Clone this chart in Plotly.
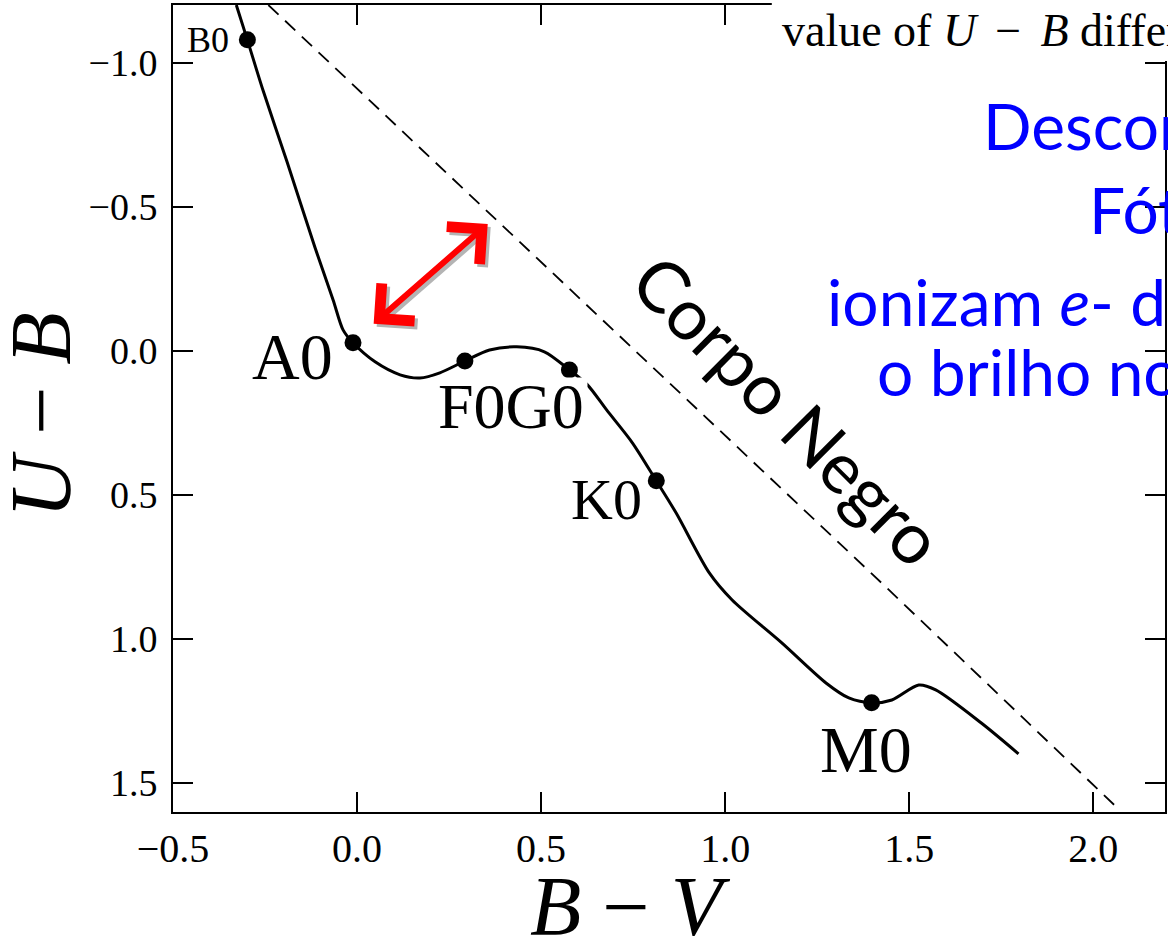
import plotly.graph_objects as go

# Canvas and plot-area geometry (pixels)
W, H = 1168, 944
ML, MR, MT, MB = 173, 1, 5, 132

SERIF = "Liberation Serif, Times New Roman, serif"
SANS = "Lato, Open Sans, sans-serif"

# Axis extents
bv_range = [-0.5, 2.195]
ub_range = [1.601, -1.201]
x_ticks = [-0.5, 0.0, 0.5, 1.0, 1.5, 2.0]
y_ticks = [-1.0, -0.5, 0.0, 0.5, 1.0, 1.5]

# Main-sequence colour-colour relation (B-V, U-B)
seq_bv = [-0.328, -0.298, -0.255, -0.190, -0.114, -0.065, -0.038, -0.011,
          0.049, 0.117, 0.171, 0.225, 0.293, 0.360, 0.434, 0.509, 0.577,
          0.626, 0.678, 0.748, 0.813, 0.867, 0.957, 1.019, 1.154, 1.274,
          1.336, 1.398, 1.453, 1.526, 1.572, 1.696, 1.797]
seq_ub = [-1.201, -1.080, -0.903, -0.656, -0.358, -0.177, -0.073, -0.028,
          0.038, 0.083, 0.094, 0.076, 0.035, -0.003, -0.014, 0.003, 0.066,
          0.118, 0.205, 0.319, 0.451, 0.563, 0.771, 0.865, 1.014, 1.153,
          1.205, 1.222, 1.212, 1.160, 1.177, 1.292, 1.399]

# Spectral-type reference points
sp_types = ["B0", "A0", "F0", "G0", "K0", "M0"]
sp_bv = [-0.298, -0.011, 0.293, 0.577, 0.813, 1.398]
sp_ub = [-1.080, -0.028, 0.035, 0.066, 0.451, 1.222]

# Blackbody line
bb_bv = [-0.241, 0.667, 1.436, 2.060]
bb_ub = [-1.201, -0.108, 0.819, 1.580]

# Spectral-type labels: text, (B-V, U-B) centre, font size
lab_text = ["B0", "A0", "F0G0", "K0", "M0"]
lab_bv = [-0.404, -0.176, 0.417, 0.678, 1.382]
lab_ub = [-1.080, 0.021, 0.194, 0.517, 1.385]
lab_size = [36, 66, 64, 58, 66]

# Double arrow between main sequence and blackbody line
arrow_tail = (0.041, -0.090)
arrow_head = (0.355, -0.441)


def px(xp, yp):
    """Pixel position on the canvas -> paper coordinates."""
    pw = W - ML - MR
    ph = H - MT - MB
    return (xp - ML) / pw, (H - MB - yp) / ph


fig = go.Figure()

fig.add_trace(go.Scatter(
    x=bb_bv, y=bb_ub, mode="lines",
    line=dict(color="black", width=1.8, dash="14px,9px"),
    hoverinfo="skip", showlegend=False))

fig.add_trace(go.Scatter(
    x=seq_bv, y=seq_ub, mode="lines",
    line=dict(color="black", width=3, shape="spline", smoothing=0.8),
    hoverinfo="skip", showlegend=False))

fig.add_trace(go.Scatter(
    x=sp_bv, y=sp_ub, mode="markers", text=sp_types,
    marker=dict(color="black", size=17),
    hoverinfo="text", showlegend=False))

shapes = []
# white backing behind the F0G0 label
shapes.append(dict(type="rect", xref="x", yref="y", layer="above",
                   x0=0.20, x1=0.626, y0=0.092, y1=0.31,
                   line=dict(width=0), fillcolor="white"))
# white box carrying the caption fragment at top right
bx0, by0 = px(773, 61)
shapes.append(dict(type="rect", xref="paper", yref="paper", layer="above",
                   x0=bx0, x1=1.02, y0=by0, y1=1.02,
                   line=dict(width=0), fillcolor="white"))

ann = []
for t, xv, yv, s in zip(lab_text, lab_bv, lab_ub, lab_size):
    ann.append(dict(x=xv, y=yv, xref="x", yref="y", text=t, showarrow=False,
                    xanchor="center", yanchor="middle",
                    font=dict(family=SERIF, size=s, color="black")))

# arrow shadow then arrow
for col, dx, dy in [("#b4b4b4", 3, -3), ("#ff0000", 0, 0)]:
    ann.append(dict(x=arrow_head[0], y=arrow_head[1], ax=arrow_tail[0], ay=arrow_tail[1],
                    xref="x", yref="y", axref="x", ayref="y", text="",
                    showarrow=True, arrowside="end+start", arrowhead=4,
                    startarrowhead=4, arrowsize=1.6, startarrowsize=1.6,
                    arrowwidth=6, arrowcolor=col, xshift=dx, yshift=dy,
                    standoff=0, startstandoff=0))

ann.append(dict(x=1.173, y=0.205, xref="x", yref="y", text="Corpo Negro",
                showarrow=False, textangle=45, xanchor="center", yanchor="middle",
                font=dict(family=SANS, size=71, color="black")))

# axis titles
bx, by = px(631, 906)
ann.append(dict(x=bx, y=by, xref="paper", yref="paper",
                text="<i>B</i> − <i>V</i>", showarrow=False,
                xanchor="center", yanchor="middle",
                font=dict(family=SERIF, size=84, color="black")))
ux, uy = px(41, 415)
ann.append(dict(x=ux, y=uy, xref="paper", yref="paper",
                text="<i>U</i> − <i>B</i>", showarrow=False, textangle=-90,
                xanchor="center", yanchor="middle",
                font=dict(family=SERIF, size=86, color="black")))

# caption fragment
cx, cy = px(781, 30)
ann.append(dict(x=cx, y=cy, xref="paper", yref="paper",
                text="value of <i>U</i>\u2006 − \u2006<i>B</i> differs", showarrow=False,
                xanchor="left", yanchor="middle",
                font=dict(family=SERIF, size=46, color="black")))

# blue explanatory text
blue_lines = ["Descontinuidade", "Fótons", "ionizam <i>e</i>- do", "o brilho no"]
blue_x = [983, 1089, 826, 876]
blue_y = [126, 209, 301, 372]
for t, xp, yp in zip(blue_lines, blue_x, blue_y):
    tx, ty = px(xp, yp)
    ann.append(dict(x=tx, y=ty, xref="paper", yref="paper", text=t,
                    showarrow=False, xanchor="left", yanchor="middle",
                    font=dict(family=SANS, size=64, color="#0000ff")))

axis_common = dict(showline=True, linecolor="black", linewidth=2, mirror="ticks",
                   ticks="inside", ticklen=20, tickwidth=2, tickcolor="black",
                   showgrid=False, zeroline=False)

fig.update_layout(
    width=W, height=H,
    margin=dict(l=ML, r=MR, t=MT, b=MB),
    paper_bgcolor="white", plot_bgcolor="white",
    xaxis=dict(range=bv_range, tickvals=x_ticks, tickformat=".1f",
               tickfont=dict(family=SERIF, size=40, color="black"),
               ticklabelstandoff=0, **axis_common),
    yaxis=dict(range=ub_range, tickvals=y_ticks, tickformat=".1f",
               tickfont=dict(family=SERIF, size=38, color="black"),
               ticklabelstandoff=6, **axis_common),
    shapes=shapes, annotations=ann,
)

fig.write_html("out.html")
